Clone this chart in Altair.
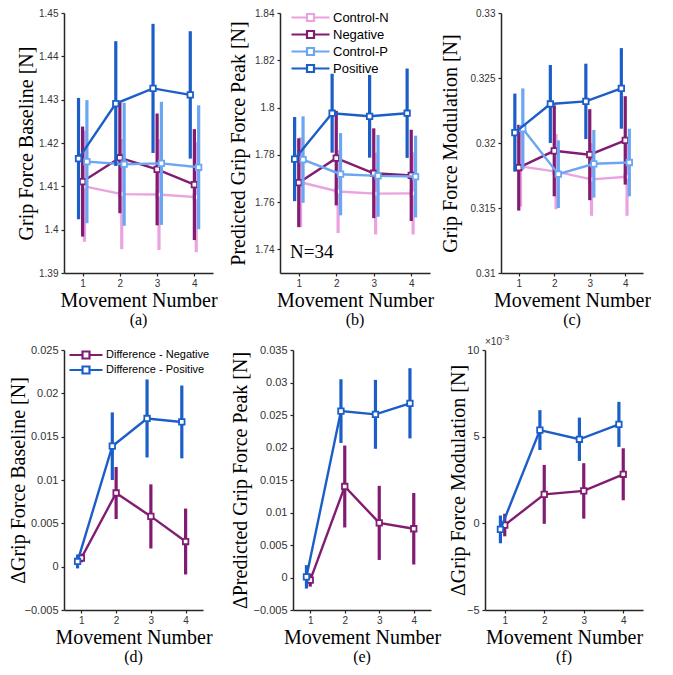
import altair as alt
import pandas as pd

movement = [1, 2, 3, 4]

series_top = ["Control-N", "Negative", "Control-P", "Positive"]
colors_top = ["#EAA2E0", "#821C72", "#6BA6F2", "#1B5EC8"]
dodge_top = [0.05, 0.0, 0.115, -0.11]

series_bot = ["Difference - Negative", "Difference - Positive"]
colors_bot = ["#821C72", "#1B5EC8"]
dodge_bot = [0.0, -0.11]

# (a) Grip Force Baseline [N]
a_ctrl_n = [1.4100, 1.4082, 1.4081, 1.4075]
a_ctrl_n_err = [0.0128, 0.0127, 0.0128, 0.0127]
a_neg = [1.4111, 1.4166, 1.4139, 1.4104]
a_neg_err = [0.0127, 0.0128, 0.0129, 0.0128]
a_ctrl_p = [1.4157, 1.4151, 1.4153, 1.4144]
a_ctrl_p_err = [0.0142, 0.0142, 0.0142, 0.0143]
a_pos = [1.4164, 1.4291, 1.4326, 1.4311]
a_pos_err = [0.0140, 0.0144, 0.0149, 0.0147]

# (b) Predicted Grip Force Peak [N]
b_ctrl_n = [1.7684, 1.7645, 1.7636, 1.7637]
b_ctrl_n_err = [0.0190, 0.0176, 0.0173, 0.0174]
b_neg = [1.7682, 1.7786, 1.7722, 1.7713]
b_neg_err = [0.0188, 0.0200, 0.0190, 0.0193]
b_ctrl_p = [1.7780, 1.7718, 1.7711, 1.7708]
b_ctrl_p_err = [0.0183, 0.0174, 0.0173, 0.0173]
b_pos = [1.7782, 1.7976, 1.7963, 1.7976]
b_pos_err = [0.0178, 0.0167, 0.0175, 0.0189]

# (c) Grip Force Modulation [N]
c_ctrl_n = [0.3182, 0.3178, 0.3172, 0.3174]
c_ctrl_n_err = [0.0031, 0.0029, 0.0028, 0.0030]
c_neg = [0.3181, 0.3194, 0.3191, 0.3202]
c_neg_err = [0.0033, 0.0035, 0.0035, 0.0034]
c_ctrl_p = [0.3211, 0.3176, 0.3184, 0.3185]
c_ctrl_p_err = [0.0031, 0.0026, 0.0026, 0.0026]
c_pos = [0.3208, 0.3230, 0.3232, 0.3242]
c_pos_err = [0.0030, 0.0030, 0.0029, 0.0031]

# (d) ΔGrip Force Baseline [N]
d_neg = [0.0010, 0.0085, 0.0058, 0.0029]
d_neg_err = [0.0005, 0.0030, 0.0037, 0.0038]
d_pos = [0.0006, 0.0139, 0.0171, 0.0167]
d_pos_err = [0.0008, 0.0039, 0.0045, 0.0042]

# (e) ΔPredicted Grip Force Peak [N]
e_neg = [-0.0004, 0.0140, 0.0084, 0.0075]
e_neg_err = [0.0010, 0.0063, 0.0057, 0.0055]
e_pos = [0.0001, 0.0256, 0.0251, 0.0268]
e_pos_err = [0.0018, 0.0049, 0.0053, 0.0054]

# (f) ΔGrip Force Modulation [N]
f_neg = [-0.00010, 0.00167, 0.00187, 0.00283]
f_neg_err = [0.00065, 0.00170, 0.00160, 0.00150]
f_pos = [-0.00035, 0.00538, 0.00485, 0.00571]
f_pos_err = [0.00080, 0.00115, 0.00125, 0.00130]

SERIF = "Liberation Serif"
SANS = "Liberation Sans"
AXC = "#262626"


def leg_path(half_line, half_sq):
    return (f"M{-half_line},0H{-half_sq}M{half_sq},0H{half_line}"
            f"M{-half_sq},{-half_sq}H{half_sq}V{half_sq}H{-half_sq}Z")


def make_df(names, dodges, means, errs):
    rows = []
    for name, dg, m, e in zip(names, dodges, means, errs):
        for x, mv, ev in zip(movement, m, e):
            rows.append(dict(series=name, xpos=x + dg, mean=mv, lo=mv - ev, hi=mv + ev))
    return pd.DataFrame(rows)


def panel(df, names, colors, ytitle, ydomain, yvalues, width, label,
          legend=None, label_expr=None, label_size=10, title_pad=4, extra=()):
    xsc = alt.Scale(domain=[0.5, 4.5], nice=False, zero=False)
    ysc = alt.Scale(domain=ydomain, nice=False, zero=False)
    xaxis = alt.Axis(title="Movement Number", values=movement, format="d",
                     labelFont=SANS, labelFontSize=10, labelColor="#333",
                     titleFont=SERIF, titleFontSize=20, titleFontWeight="normal",
                     titleColor="black", domainColor=AXC, domainWidth=1.5,
                     tickColor=AXC, tickSize=3, tickWidth=1.2, grid=False,
                     labelPadding=2, titlePadding=2)
    yargs = dict(title=ytitle, values=yvalues, format="~g",
                 labelFont=SANS, labelFontSize=label_size, labelColor="#333",
                 titleFont=SERIF, titleFontSize=20, titleFontWeight="normal",
                 titleColor="black", domainColor=AXC, domainWidth=1.5,
                 tickColor=AXC, tickSize=3, tickWidth=1.2, grid=False,
                 labelPadding=3, titlePadding=title_pad)
    if label_expr:
        yargs["labelExpr"] = label_expr
    yaxis = alt.Axis(**yargs)
    color = alt.Color("series:N", scale=alt.Scale(domain=names, range=colors),
                      legend=legend)
    layers = []
    for n in names:
        base = alt.Chart(df).transform_filter(alt.datum.series == n)
        rule = base.mark_rule(strokeWidth=3.2).encode(
            x=alt.X("xpos:Q", scale=xsc, axis=xaxis),
            y=alt.Y("lo:Q", scale=ysc, axis=yaxis),
            y2="hi:Q", color=color)
        line = base.mark_line(strokeWidth=2.4).encode(
            x=alt.X("xpos:Q", scale=xsc, axis=xaxis),
            y=alt.Y("mean:Q", scale=ysc, axis=yaxis), color=color)
        pt = base.mark_point(shape="square", size=30, filled=False, fill="white",
                             fillOpacity=1, strokeWidth=1.8, opacity=1).encode(
            x=alt.X("xpos:Q", scale=xsc, axis=xaxis),
            y=alt.Y("mean:Q", scale=ysc, axis=yaxis), color=color)
        layers += [rule, line, pt]
    layers += list(extra)
    return alt.layer(*layers).properties(
        width=width, height=260,
        title=alt.TitleParams(label, orient="bottom", font=SERIF, fontSize=16,
                              fontWeight="normal", color="black", offset=2))


def legend_def(font_size, half_line_units, label_offset, lx, ly, row_pad):
    return alt.Legend(title=None, orient="none", legendX=lx, legendY=ly,
                      symbolType=leg_path(half_line_units, 0.875), symbolSize=64,
                      symbolStrokeWidth=2.2, symbolFillColor="white",
                      labelFont=SANS, labelFontSize=font_size, labelColor="black",
                      rowPadding=row_pad, labelOffset=label_offset, padding=0)


def ind(ch):
    return ch.resolve_scale(color="independent").resolve_legend(color="independent")


df_a = make_df(series_top, dodge_top, [a_ctrl_n, a_neg, a_ctrl_p, a_pos],
               [a_ctrl_n_err, a_neg_err, a_ctrl_p_err, a_pos_err])
df_b = make_df(series_top, dodge_top, [b_ctrl_n, b_neg, b_ctrl_p, b_pos],
               [b_ctrl_n_err, b_neg_err, b_ctrl_p_err, b_pos_err])
df_c = make_df(series_top, dodge_top, [c_ctrl_n, c_neg, c_ctrl_p, c_pos],
               [c_ctrl_n_err, c_neg_err, c_ctrl_p_err, c_pos_err])
df_d = make_df(series_bot, dodge_bot, [d_neg, d_pos], [d_neg_err, d_pos_err])
df_e = make_df(series_bot, dodge_bot, [e_neg, e_pos], [e_neg_err, e_pos_err])
df_f = make_df(series_bot, dodge_bot, [f_neg, f_pos], [f_neg_err, f_pos_err])

n_text = alt.Chart(pd.DataFrame({"t": ["N=34"]})).mark_text(
    align="left", baseline="middle", font=SERIF, fontSize=19, color="black"
).encode(x=alt.value(10), y=alt.value(239), text="t:N")

exp_base = alt.Chart(pd.DataFrame({"t": ["×10"]})).mark_text(
    align="left", baseline="bottom", font=SANS, fontSize=10, color="#333"
).encode(x=alt.value(0), y=alt.value(-3), text="t:N")
exp_sup = alt.Chart(pd.DataFrame({"t": ["-3"]})).mark_text(
    align="left", baseline="bottom", font=SANS, fontSize=8, color="#333"
).encode(x=alt.value(17), y=alt.value(-8), text="t:N")

pa = panel(df_a, series_top, colors_top, "Grip Force Baseline [N]", [1.39, 1.45],
           [1.39, 1.40, 1.41, 1.42, 1.43, 1.44, 1.45], 149, "(a)", title_pad=2)
pb = panel(df_b, series_top, colors_top, "Predicted Grip Force Peak [N]", [1.73, 1.84],
           [1.74, 1.76, 1.78, 1.80, 1.82, 1.84], 150, "(b)", title_pad=6,
           legend=legend_def(13, 4.75, 16, 24, -2, 0), extra=[n_text])
pc = panel(df_c, series_top, colors_top, "Grip Force Modulation [N]", [0.31, 0.33],
           [0.31, 0.315, 0.32, 0.325, 0.33], 142, "(c)", title_pad=9)
pd_ = panel(df_d, series_bot, colors_bot, "ΔGrip Force Baseline [N]", [-0.005, 0.025],
            [-0.005, 0, 0.005, 0.01, 0.015, 0.02, 0.025], 139, "(d)",
            legend=legend_def(11, 4.125, 14.5, 16.5, -0.5, -2), label_size=11,
            title_pad=-4)
pe = panel(df_e, series_bot, colors_bot, "ΔPredicted Grip Force Peak [N]", [-0.005, 0.035],
           [-0.005, 0, 0.005, 0.01, 0.015, 0.02, 0.025, 0.03, 0.035], 138, "(e)",
           label_size=11, title_pad=3)
pf = panel(df_f, series_bot, colors_bot, "ΔGrip Force Modulation [N]", [-0.005, 0.010],
           [-0.005, 0, 0.005, 0.01], 158, "(f)",
           label_expr="format(datum.value * 1000, '~g')", label_size=11,
           title_pad=-2, extra=[exp_base, exp_sup])

top = ind(alt.hconcat(ind(alt.hconcat(pa, pb, spacing=10)), pc, spacing=6))
bottom = ind(alt.hconcat(ind(alt.hconcat(pd_, pe, spacing=17)), pf, spacing=7))

chart = ind(alt.vconcat(top, bottom, spacing=6)).properties(
    padding={"left": 0, "top": 0, "right": 0, "bottom": 0}
).configure_view(stroke=None)

chart.save("out.html", embed_options={"renderer": "svg", "actions": False})
